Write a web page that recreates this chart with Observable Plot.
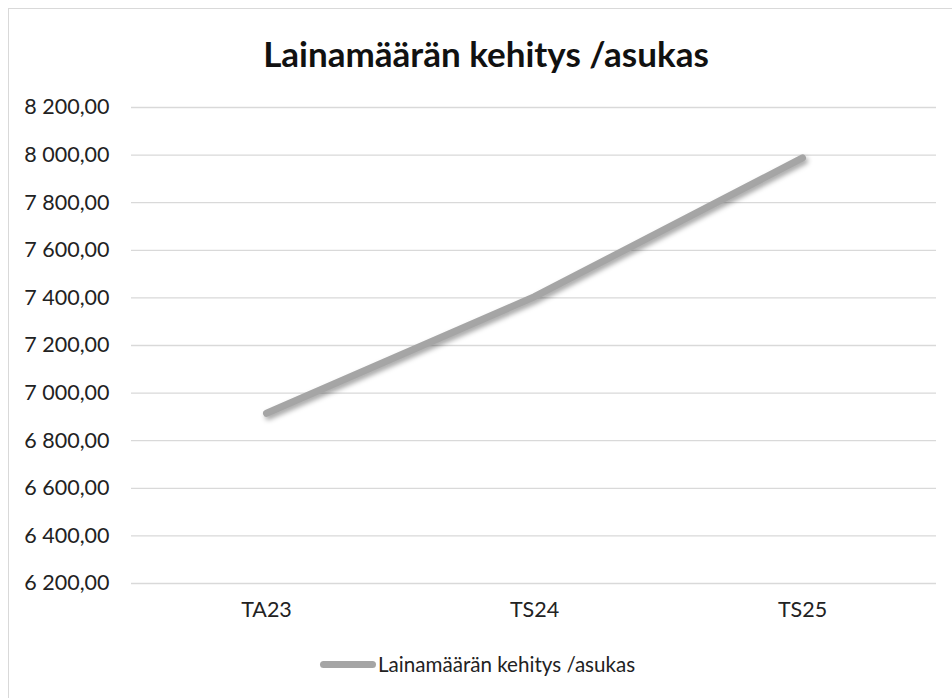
<!DOCTYPE html>
<html><head><meta charset="utf-8">
<script src="https://cdn.jsdelivr.net/npm/d3@7"></script>
<script src="https://cdn.jsdelivr.net/npm/@observablehq/plot@0.6"></script>
<style>
body{margin:0;background:#fff;font-family:Lato,"Noto Sans",sans-serif;}
#frame{position:absolute;left:8px;top:8px;width:1000px;height:760px;border:1px solid #d9d9d9;box-sizing:border-box;}
#title{position:absolute;left:0;top:32px;width:972px;text-align:center;font-weight:bold;font-size:35px;color:#111;}
#chart{position:absolute;left:0;top:0;}
#legend{position:absolute;left:320px;top:652px;display:flex;align-items:center;font-size:20.6px;color:#222;}
#legend .sw{width:56px;height:7px;border-radius:4px;background:#a5a5a5;margin-right:2px;}
</style></head>
<body>
<div id="frame"></div>
<div id="chart"></div>
<div id="title">Lainamäärän kehitys /asukas</div>
<div id="legend"><span class="sw"></span><span>Lainamäärän kehitys /asukas</span></div>
<script>
const categories = ["TA23", "TS24", "TS25"];
const values = [6915, 7405, 7988];
const yTicks = [6200, 6400, 6600, 6800, 7000, 7200, 7400, 7600, 7800, 8000, 8200];
const seriesName = "Lainamäärän kehitys /asukas";

const data = categories.map((c, i) => ({cat: c, v: values[i]}));
const fmt = d3.formatLocale({decimal: ",", thousands: " ", grouping: [3]}).format(",.2f");

const plot = Plot.plot({
  width: 952,
  height: 640,
  marginTop: 107,
  marginBottom: 57,
  marginLeft: 131,
  marginRight: 16,
  style: {fontFamily: "Lato, 'Noto Sans', sans-serif", fontSize: "21.5px", color: "#222", background: "transparent"},
  x: {type: "band", domain: categories, padding: 0, label: null, tickSize: 0, tickPadding: 18},
  y: {domain: [6200, 8200], ticks: yTicks, tickFormat: fmt, label: null, tickSize: 0, tickPadding: 22},
  marks: [
    Plot.gridY(yTicks, {stroke: "#d9d9d9", strokeOpacity: 1, strokeWidth: 1.3}),
    Plot.line(data, {x: "cat", y: "v", stroke: "#a5a5a5", strokeWidth: 7, strokeLinecap: "round", strokeLinejoin: "round"})
  ]
});
document.getElementById("chart").appendChild(plot);
const lp = plot.querySelector('g[aria-label="line"] path');
if (lp) lp.style.filter = "drop-shadow(2px 3px 2.5px rgba(0,0,0,0.35))";
</script>
</body></html>
